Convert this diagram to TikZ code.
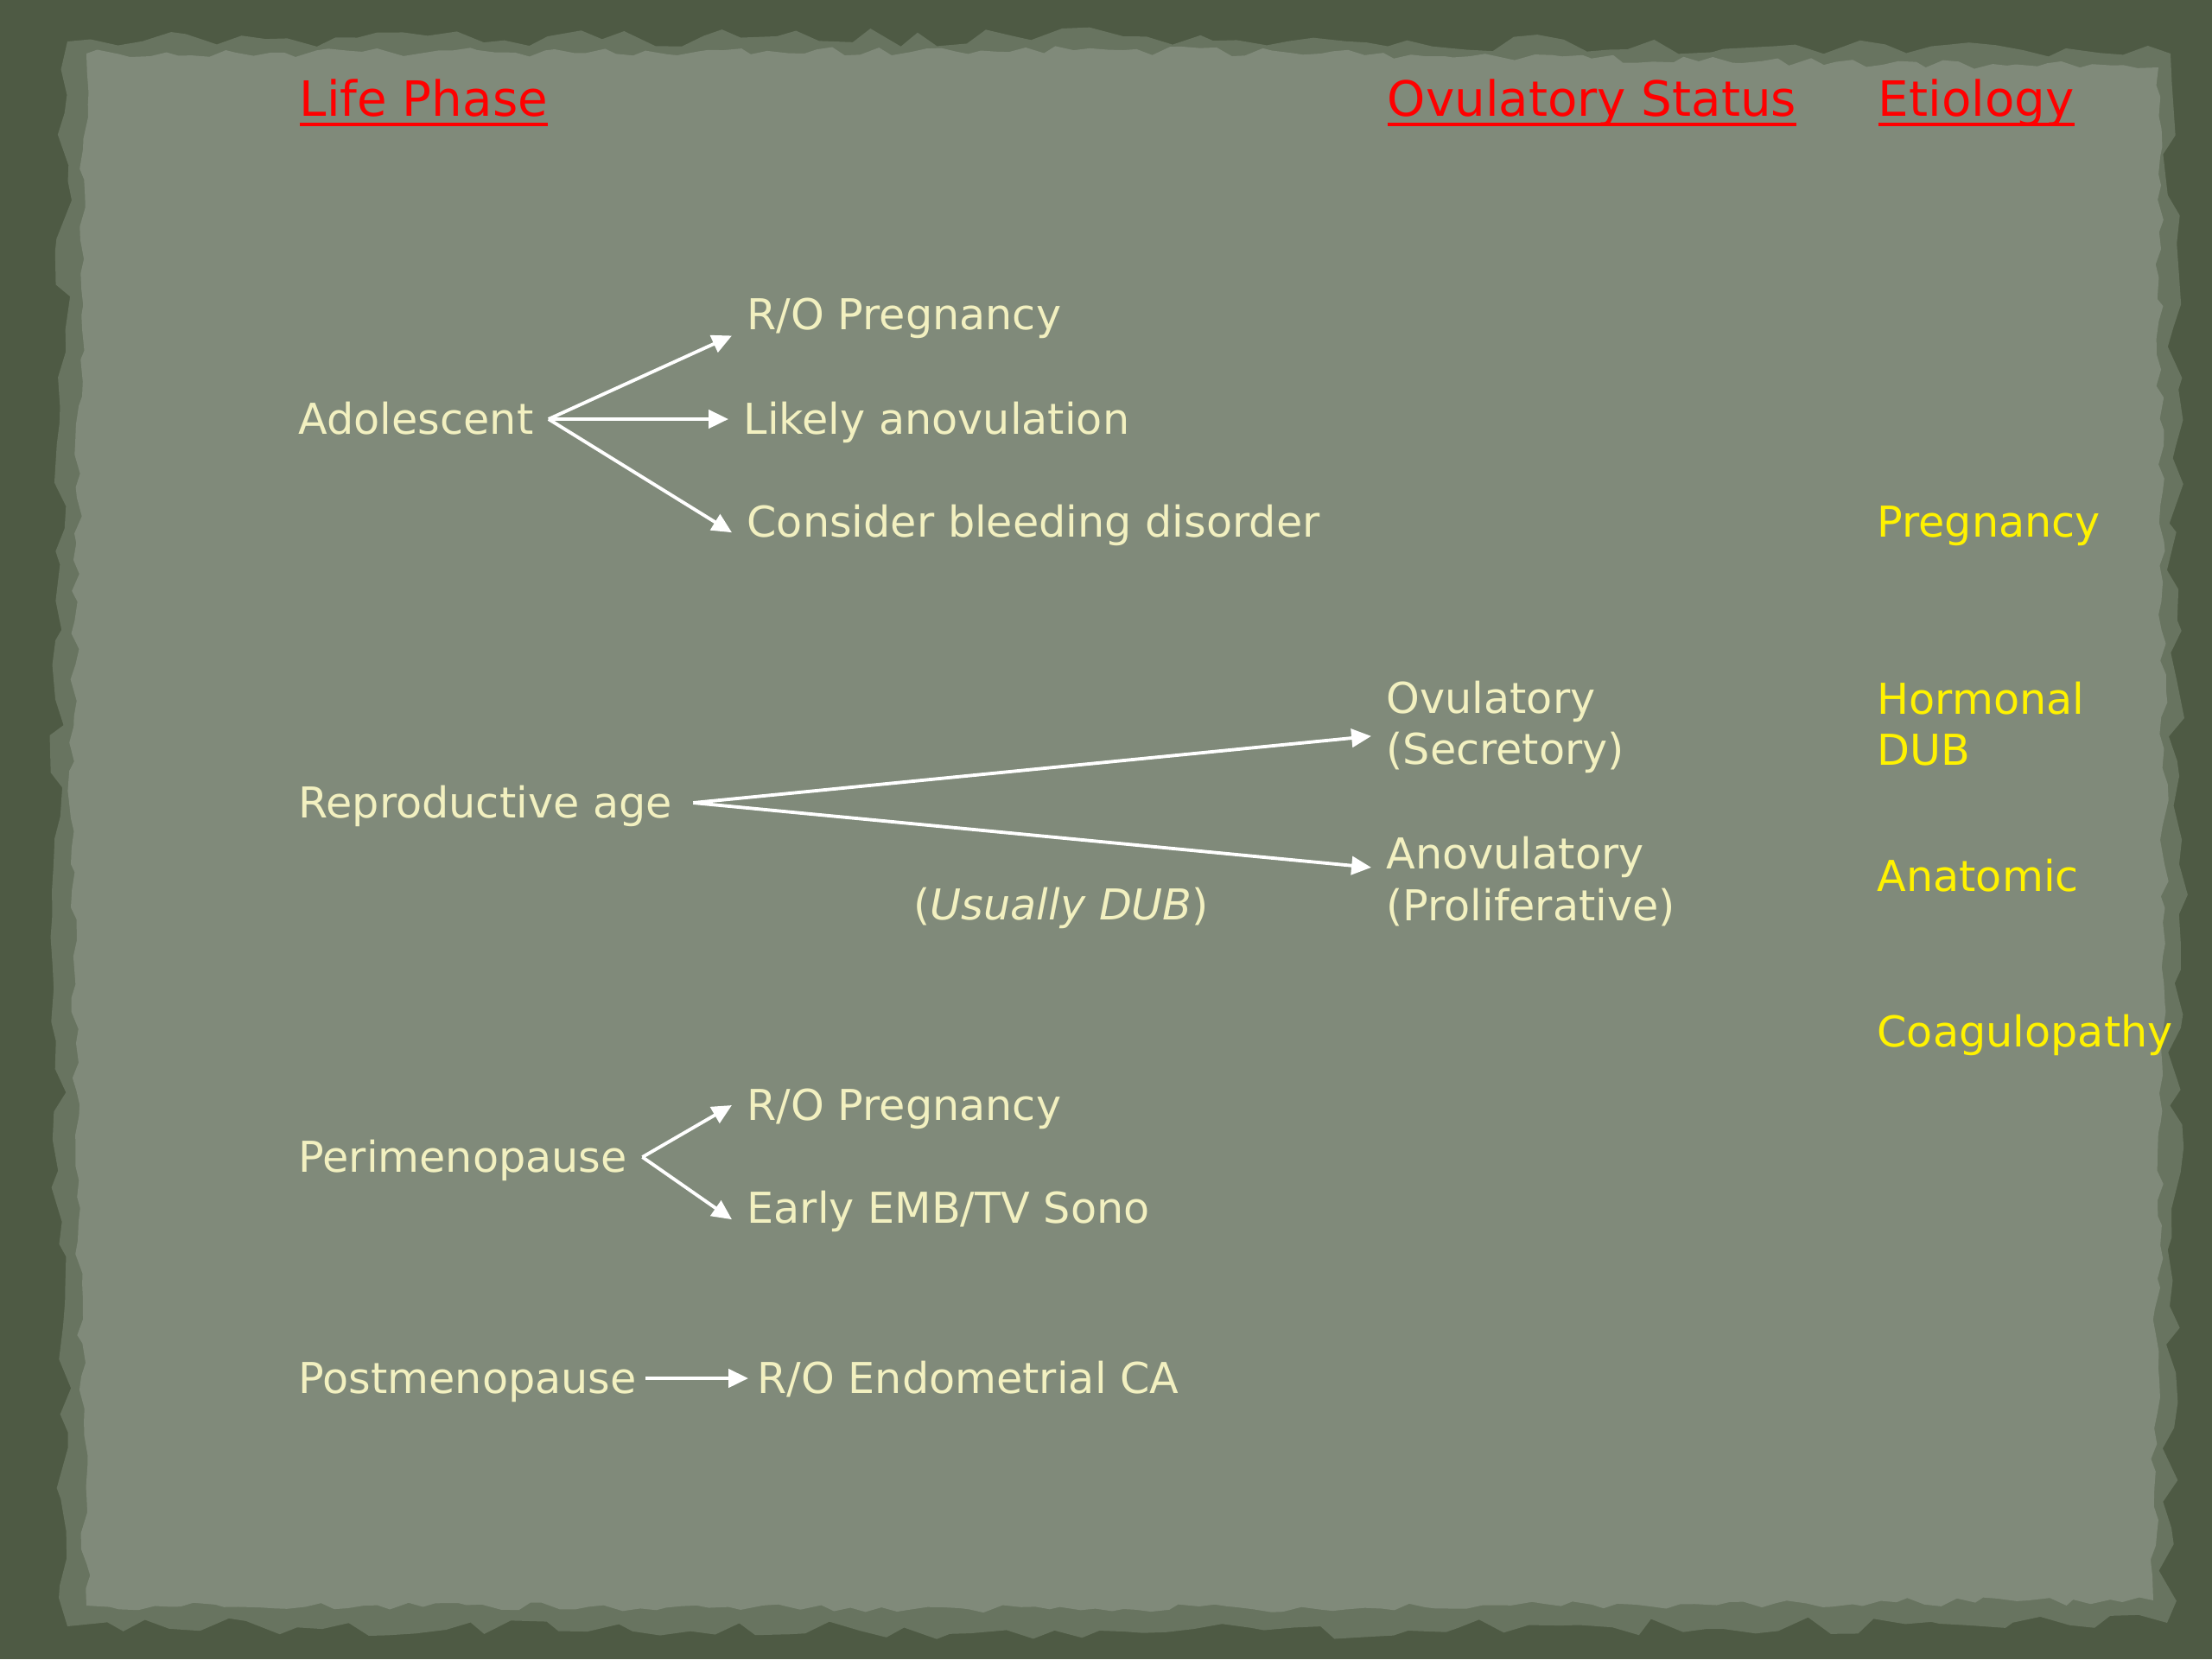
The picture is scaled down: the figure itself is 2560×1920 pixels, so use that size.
\documentclass[tikz,border=0pt]{standalone}
\usepackage{fontspec}
\setmainfont{DejaVu Sans}
\newcommand{\headul}[1]{\setbox0=\hbox{#1}\rlap{\copy0}\raisebox{-3.3pt}{\rule{\wd0}{1.1pt}}}
\usetikzlibrary{arrows.meta, decorations.pathmorphing}
\definecolor{board}{RGB}{78,90,68}
\definecolor{rim}{RGB}{104,116,96}
\definecolor{paper}{RGB}{128,138,122}
\definecolor{chalk}{RGB}{242,240,192}
\tikzstyle{phase} = [anchor=west, inner sep=2pt, outer sep=3pt, text height=10pt, text depth=0pt, text=chalk, font=\fontsize{14}{16.8}\selectfont]
\tikzstyle{head} = [anchor=west, inner sep=2pt, text height=11.5pt, text depth=0pt, text=red, font=\fontsize{16}{19}\selectfont]
\tikzstyle{cause} = [phase, text=yellow]
\tikzstyle{status} = [anchor=west, inner sep=2pt, outer sep=3pt, align=left, text=chalk, font=\fontsize{14}{16.8}\selectfont]
\tikzstyle{cause2} = [status, text=yellow]
\tikzstyle{arrow} = [line width=1.1pt, white, ->, >={Triangle[length=6.5pt, width=6pt]}]

\begin{document}
\begin{tikzpicture}[x=0.01cm, y=-0.01cm]
	\pgfmathsetseed{7}
	% background board and torn paper
	\fill [board] (0,0) rectangle (2560,1920);
	\fill [rim, decorate, decoration={random steps, segment length=8pt, amplitude=3pt}] (78,48) -- (1300,42) -- (2512,62) -- (2522,1000) -- (2508,1878) -- (1300,1888) -- (78,1882) -- (62,1000) -- cycle;
	\fill [paper, decorate, decoration={random steps, segment length=5pt, amplitude=1.5pt}] (100,62) -- (1300,58) -- (2498,78) -- (2505,1000) -- (2492,1852) -- (1300,1862) -- (100,1858) -- (82,1000) -- cycle;

	% column headings
	\node (hphase) [head] at (339,114) {\headul{Life Phase}};
	\node (hstatus) [head] at (1598,114) {\headul{Ovulatory Status}};
	\node (hcause) [head] at (2166,114) {\headul{Etiology}};

	% life phases
	\node (ado) [phase] at (328,485) {Adolescent};
	\node (rop1) [phase] at (847,364) {R/O Pregnancy};
	\node (anov) [phase] at (843,485) {Likely anovulation};
	\node (bleed) [phase] at (847,604) {Consider bleeding disorder};

	\node (repro) [phase, outer xsep=5pt] at (321,929) {Reproductive age};
	\node (ovu) [status] at (1587,841) {Ovulatory\\(Secretory)};
	\node (anovu) [status] at (1587,1020) {Anovulatory\\(Proliferative)};
	\node (dub) [phase] at (1040,1047) {(\textit{Usually DUB})};

	\node (peri) [phase] at (328,1339) {Perimenopause};
	\node (rop2) [phase] at (847,1279) {R/O Pregnancy};
	\node (emb) [phase] at (847,1398) {Early EMB/TV Sono};

	\node (post) [phase, outer sep=1pt] at (335,1595) {Postmenopause};
	\node (endo) [phase, outer sep=1pt] at (866,1595) {R/O Endometrial CA};

	% etiology
	\node (cpreg) [cause] at (2155,604) {Pregnancy};
	\node (chorm) [cause2] at (2155,838) {Hormonal\\DUB};
	\node (canat) [cause] at (2155,1014) {Anatomic};
	\node (ccoag) [cause] at (2155,1194) {Coagulopathy};

	\draw [arrow] (ado.east) -- (rop1.187);
	\draw [arrow] (ado.east) -- (anov.west);
	\draw [arrow] (ado.east) -- (bleed.182);
	\draw [arrow] (repro.east) -- (ovu.184);
	\draw [arrow] (repro.east) -- (anovu.175);
	\draw [arrow] (peri.east) -- (rop2.west);
	\draw [arrow] (peri.east) -- (emb.183);
	\draw [arrow] (post.east) -- (endo.west);
\end{tikzpicture}
\end{document}
